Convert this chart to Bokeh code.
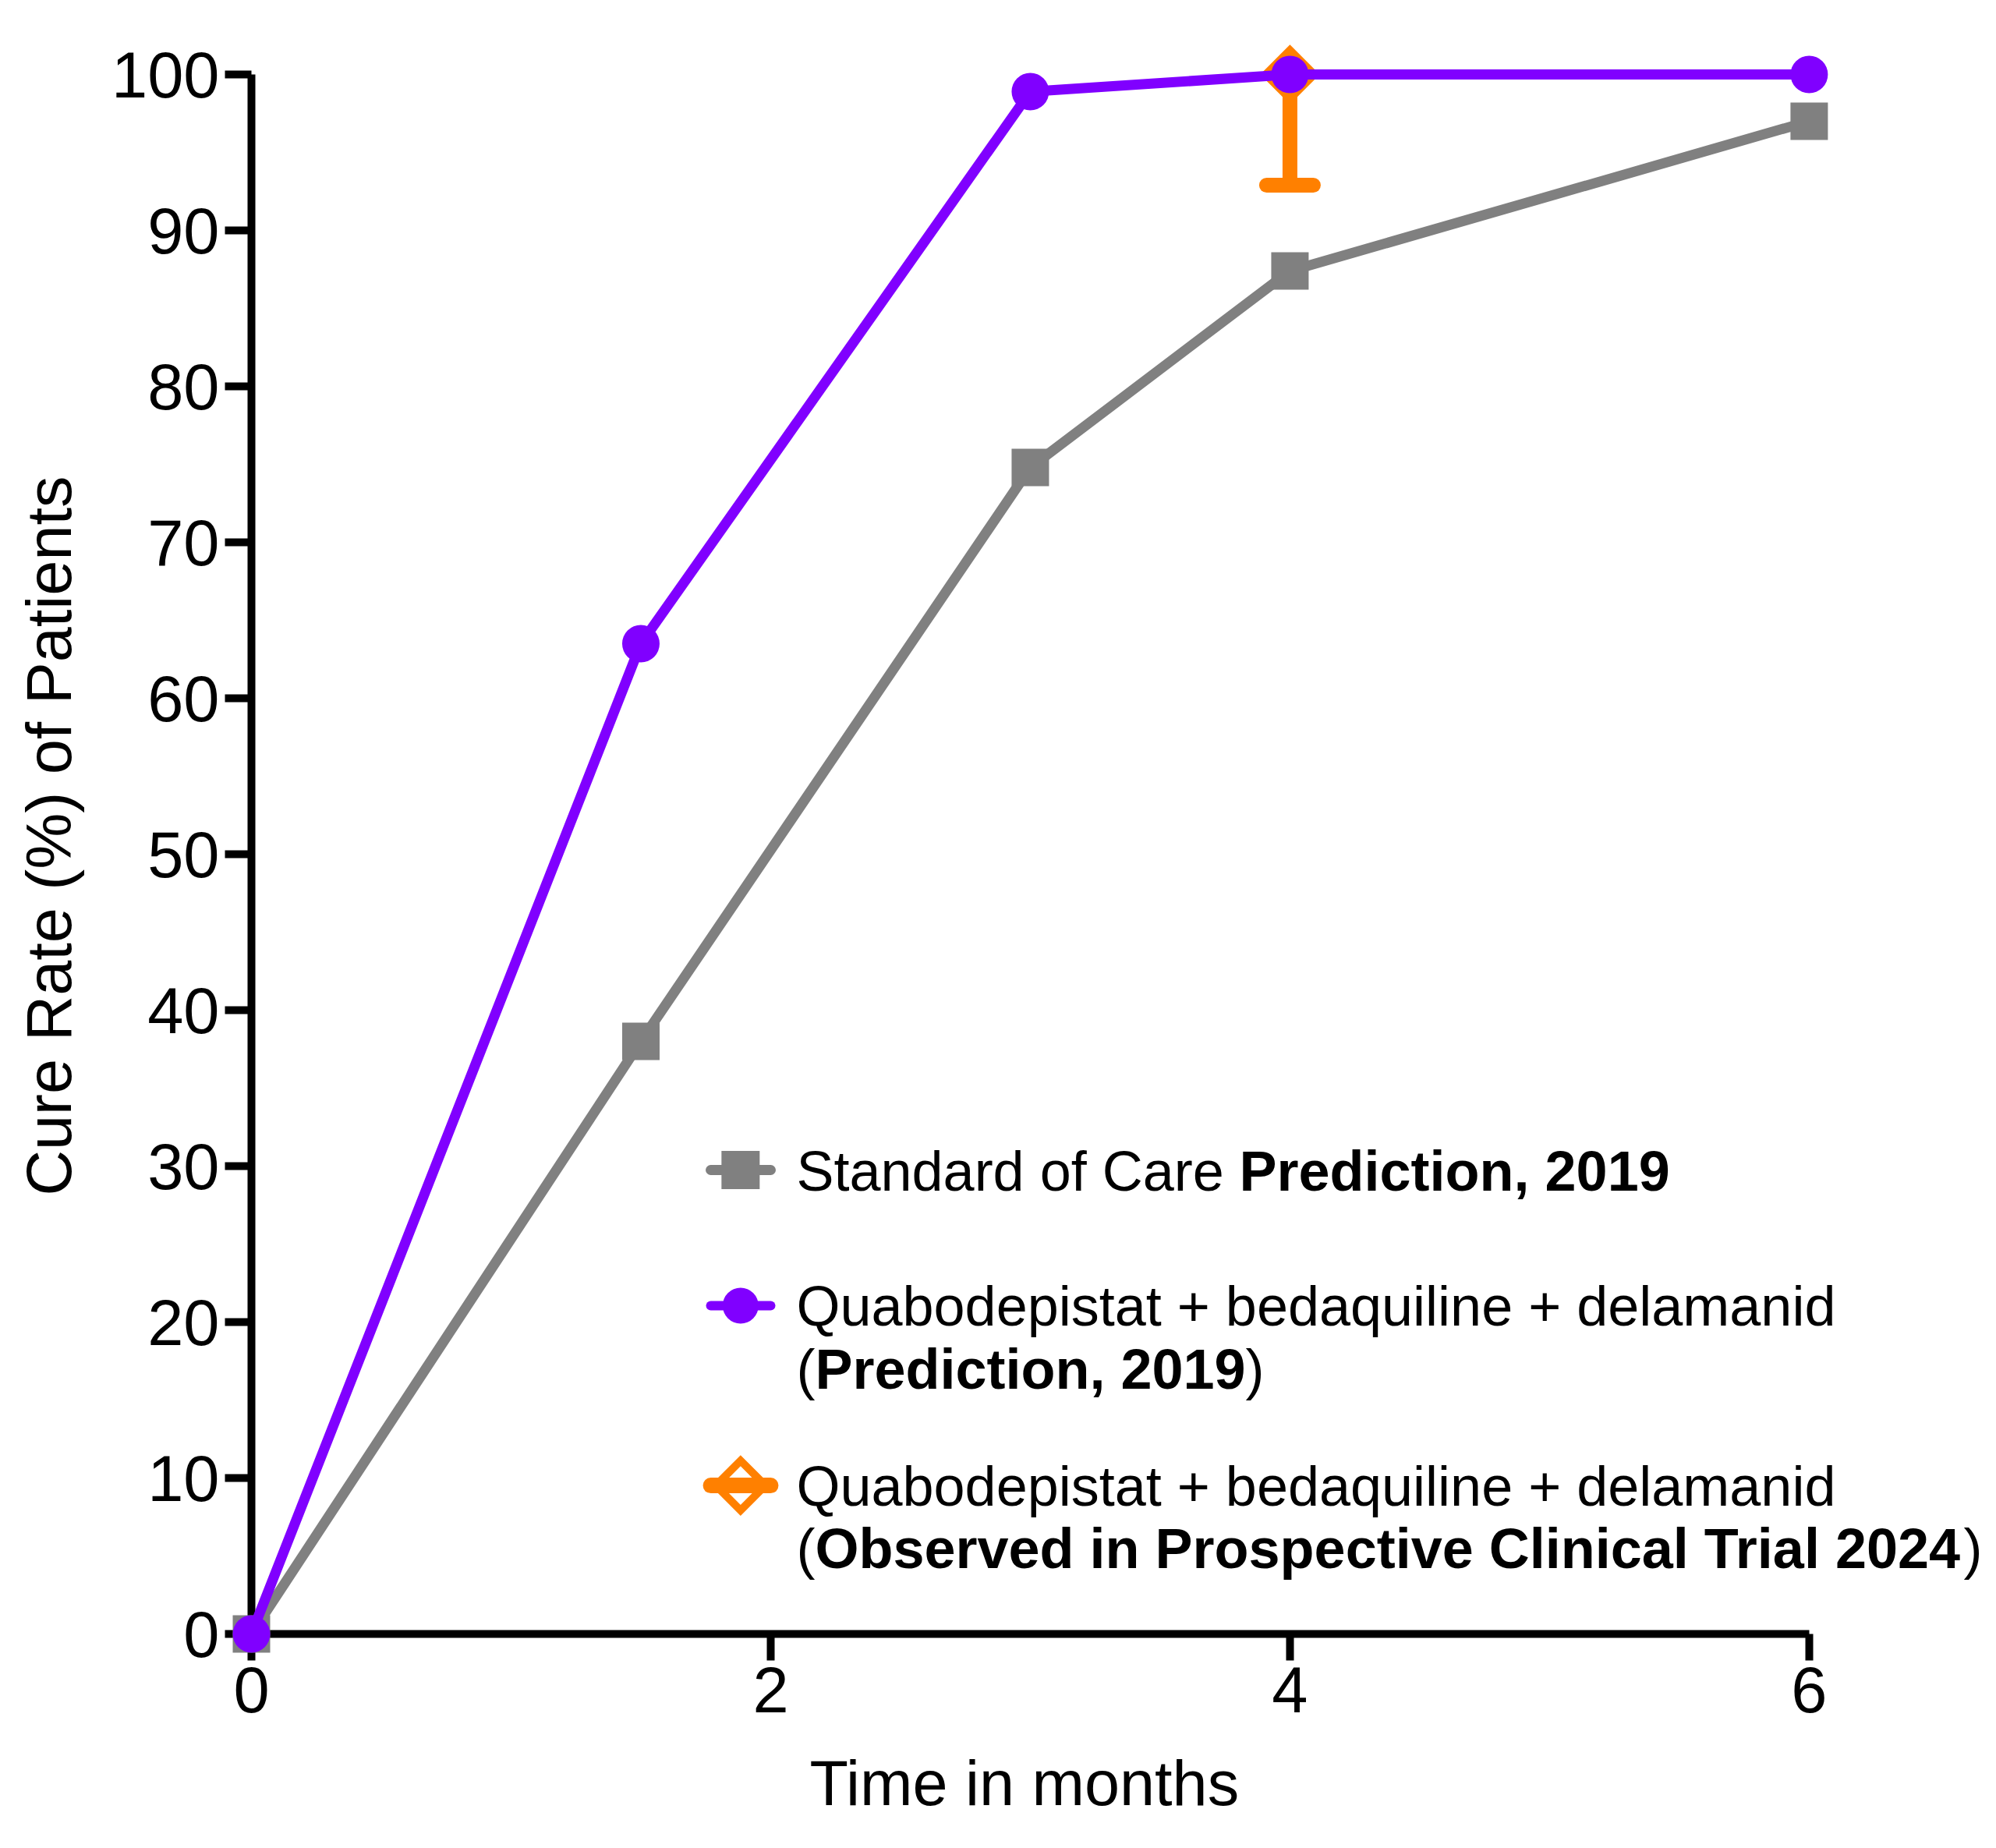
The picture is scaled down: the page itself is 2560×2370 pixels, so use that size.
import numpy as np
from bokeh.plotting import figure
from bokeh.models import (Range1d, FixedTicker, Label, Whisker, TeeHead,
                          ColumnDataSource, Title)
from bokeh.embed import file_html
from bokeh.resources import INLINE

# ---------------- data ----------------
months = [0, 1.5, 3, 4, 6]
soc_prediction = [0, 38.0, 74.8, 87.4, 97.0]
combo_prediction = [0, 63.5, 98.9, 100, 100]
observed_month = [4]
observed_rate = [100]
observed_lower = [92.9]
x_ticks = [0, 2, 4, 6]
y_ticks = [0, 10, 20, 30, 40, 50, 60, 70, 80, 90, 100]

GRAY = "#808080"
PURPLE = "#8000FF"
ORANGE = "#FF8000"
FONT = "Liberation Sans"

p = figure(frame_width=2222, frame_height=2047,
           x_range=Range1d(0, 6.673), y_range=Range1d(0, 102.35),
           output_backend="svg", toolbar_location=None,
           min_border_left=322, min_border_right=0,
           min_border_top=48, min_border_bottom=0,
           background_fill_color="white", border_fill_color="white")
p.outline_line_color = None
p.grid.visible = False

for ax in (p.xaxis[0], p.yaxis[0]):
    ax.axis_line_width = 10
    ax.axis_line_color = "black"
    ax.major_tick_line_width = 10
    ax.major_tick_line_color = "black"
    ax.major_tick_in = 0
    ax.major_tick_out = 34
    ax.minor_tick_line_color = None
    ax.major_label_text_font = FONT
    ax.major_label_text_font_size = "83px"
    ax.major_label_text_color = "black"
    ax.axis_label_text_font = FONT
    ax.axis_label_text_font_size = "81px"
    ax.axis_label_text_font_style = "normal"
    ax.axis_label_text_color = "black"

p.xaxis.bounds = (0, 6)
p.yaxis.bounds = (0, 100)
p.xaxis.ticker = FixedTicker(ticks=x_ticks)
p.yaxis.ticker = FixedTicker(ticks=y_ticks)
p.yaxis.axis_label = "Cure Rate (%) of Patients"
p.xaxis.major_label_standoff = 8
p.yaxis.major_label_standoff = 7
p.yaxis.axis_label_standoff = 32

# x-axis title, centred under the 0-6 month span of the axis
x_title = Title(text="Time in months", align="left", offset=716,
                vertical_align="top", standoff=0,
                text_font=FONT, text_font_size="81px",
                text_font_style="normal", text_color="black")
try:
    x_title.padding = dict(left=0, right=0, top=43, bottom=0)
except Exception:
    pass
p.add_layout(x_title, "below")

# ---------------- series ----------------
r1 = p.line(months, soc_prediction, line_color=GRAY, line_width=13, line_join="round")
r2 = p.scatter(months, soc_prediction, marker="square", size=48, fill_color=GRAY, line_color=None)

# observed: lower error bar + hollow diamond
err_src = ColumnDataSource(dict(base=observed_month, lower=observed_lower, upper=observed_rate))
whisker = Whisker(source=err_src, base="base", lower="lower", upper="upper", dimension="height",
                  line_color=ORANGE, line_width=19, upper_head=None,
                  lower_head=TeeHead(size=60, line_color=ORANGE, line_width=19, line_cap="round"),
                  level="underlay")
p.add_layout(whisker)
r3 = p.scatter(observed_month, observed_rate, marker="square", angle=np.pi / 4, size=44,
               fill_color="white", line_color=ORANGE, line_width=10, line_join="miter")

r4 = p.line(months, combo_prediction, line_color=PURPLE, line_width=13, line_join="round")
r5 = p.scatter(months, combo_prediction, marker="circle", size=48, fill_color=PURPLE, line_color=None)

for r in (r1, r2, r3, r4, r5):
    r.level = "overlay"

# ---------------- legend (manual, mixed normal / bold text) ----------------
KEY_X0, KEY_X1, KEY_XM = 1.769, 2.0, 1.884
TEXT_X = 2.099
key_y = [29.75, 21.05, 9.52]
TXT_DY = 1.0

p.line([KEY_X0, KEY_X1], [key_y[0]] * 2, line_color=GRAY, line_width=13, line_cap="round")
p.scatter([KEY_XM], [key_y[0]], marker="square", size=49, fill_color=GRAY, line_color=None)

p.line([KEY_X0, KEY_X1], [key_y[1]] * 2, line_color=PURPLE, line_width=12, line_cap="round")
p.scatter([KEY_XM], [key_y[1]], marker="circle", size=46, fill_color=PURPLE, line_color=None)

p.scatter([KEY_XM], [key_y[2]], marker="square", angle=np.pi / 4, size=45,
          fill_color="white", line_color=ORANGE, line_width=10, line_join="miter")
p.line([KEY_X0, KEY_X1], [key_y[2]] * 2, line_color=ORANGE, line_width=20, line_cap="round")

legend_texts = [
    ("Standard of Care ", "normal", TEXT_X, 28.66),
    ("Prediction, 2019", "bold", 3.805, 28.66),
    ("Quabodepistat + bedaquiline + delamanid", "normal", TEXT_X, 20.02),
    ("(", "normal", TEXT_X, 15.97),
    ("Prediction, 2019", "bold", 2.171, 15.97),
    (")", "normal", 3.829, 15.97),
    ("Quabodepistat + bedaquiline + delamanid", "normal", TEXT_X, 8.455),
    ("(", "normal", TEXT_X, 4.46),
    ("Observed in Prospective Clinical Trial 2024", "bold", 2.171, 4.46),
    (")", "normal", 6.595, 4.46),
]
for txt, style, x, y in legend_texts:
    p.add_layout(Label(x=x, y=y + TXT_DY, text=txt, text_font=FONT, text_font_size="72px",
                       text_font_style=style, text_color="black",
                       text_align="left", text_baseline="alphabetic"))

open("out.html", "w").write(file_html(p, INLINE))
